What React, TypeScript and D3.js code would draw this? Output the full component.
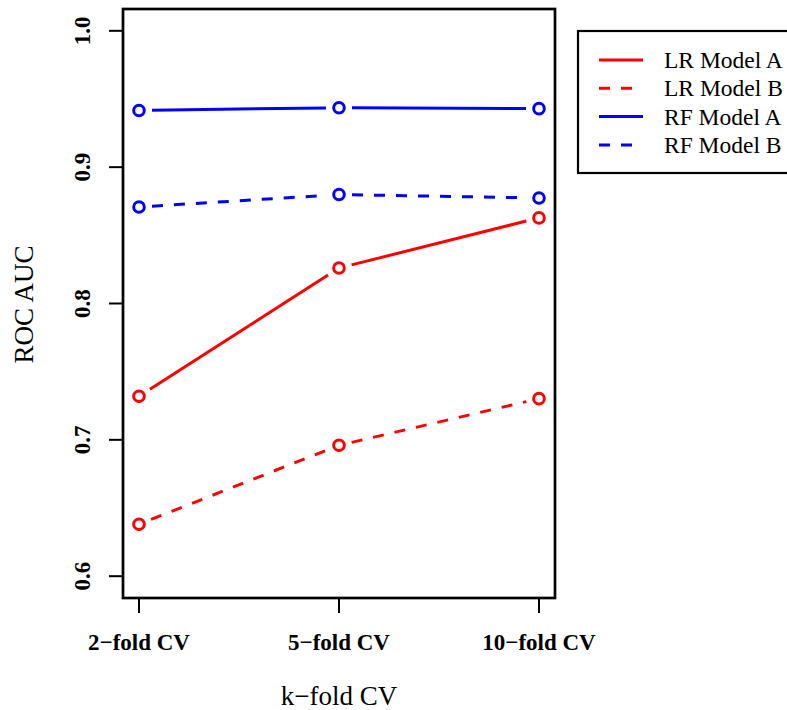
import React from "react";
import * as d3 from "d3";

const categories = ["2−fold CV", "5−fold CV", "10−fold CV"];
const yTicks = [0.6, 0.7, 0.8, 0.9, 1.0];
const lrA = [0.732, 0.826, 0.8628];
const lrB = [0.6381, 0.696, 0.7302];
const rfA = [0.9416, 0.9436, 0.9429];
const rfB = [0.8708, 0.8799, 0.8774];

const seriesNames = ["LR Model A", "LR Model B", "RF Model A", "RF Model B"];
const seriesValues = [lrA, lrB, rfA, rfB];
const seriesColors = ["#ff0000", "#ff0000", "#0000ff", "#0000ff"];
const seriesDashed = [false, true, false, true];

const W = 787;
const H = 710;
const left = 123;
const right = 555;
const top = 9;
const bottom = 598;
const FONT = "'Liberation Serif', 'Times New Roman', serif";

export default function App() {
  const x = d3.scaleLinear().domain([0.92, 3.08]).range([left, right]);
  const y = d3.scaleLinear().domain([0.584, 1.016]).range([bottom, top]);
  const gap = 13;
  const dash = "11,11";

  const segs: any[] = [];
  seriesValues.forEach((vals, si) => {
    for (let i = 0; i < vals.length - 1; i++) {
      const x1 = x(i + 1), y1 = y(vals[i]);
      const x2 = x(i + 2), y2 = y(vals[i + 1]);
      const len = Math.hypot(x2 - x1, y2 - y1);
      if (len <= 2 * gap) continue;
      const ux = (x2 - x1) / len, uy = (y2 - y1) / len;
      segs.push(
        <line
          key={`s${si}-${i}`}
          x1={x1 + ux * gap}
          y1={y1 + uy * gap}
          x2={x2 - ux * gap}
          y2={y2 - uy * gap}
          stroke={seriesColors[si]}
          strokeWidth={3}
          strokeDasharray={seriesDashed[si] ? dash : undefined}
        />
      );
    }
  });

  const legX = 578, legY = 31, rowH = 28.3;

  return (
    <svg
      width={W}
      height={H}
      style={{ position: "absolute", left: 0, top: 0, background: "#fff" }}
      fontFamily={FONT}
    >
      <rect x={0} y={0} width={W} height={H} fill="#fff" />
      {segs}
      {seriesValues.map((vals, si) =>
        vals.map((v, i) => (
          <circle
            key={`p${si}-${i}`}
            cx={x(i + 1)}
            cy={y(v)}
            r={5.3}
            fill="none"
            stroke={seriesColors[si]}
            strokeWidth={3}
          />
        ))
      )}
      <rect
        x={left}
        y={top}
        width={right - left}
        height={bottom - top}
        fill="none"
        stroke="#000"
        strokeWidth={2.7}
      />
      {yTicks.map((t) => (
        <g key={`yt${t}`}>
          <line x1={left - 14} x2={left} y1={y(t)} y2={y(t)} stroke="#000" strokeWidth={2} />
          <text
            transform={`translate(90,${y(t)}) rotate(-90)`}
            textAnchor="middle"
            fontWeight="bold"
            fontSize={23}
          >
            {t.toFixed(1)}
          </text>
        </g>
      ))}
      {categories.map((c, i) => (
        <g key={`xt${i}`}>
          <line x1={x(i + 1)} x2={x(i + 1)} y1={bottom} y2={bottom + 15} stroke="#000" strokeWidth={2} />
          <text x={x(i + 1)} y={650} textAnchor="middle" fontWeight="bold" fontSize={23}>
            {c}
          </text>
        </g>
      ))}
      <text x={(left + right) / 2} y={705} textAnchor="middle" fontSize={27}>
        k−fold CV
      </text>
      <text transform={`translate(33,${(top + bottom) / 2 + 1}) rotate(-90)`} textAnchor="middle" fontSize={27}>
        ROC AUC
      </text>
      <rect x={legX} y={legY} width={240} height={142} fill="#fff" stroke="#000" strokeWidth={2.2} />
      {seriesNames.map((n, si) => {
        const ry = 60 + si * rowH;
        return (
          <g key={`lg${si}`}>
            <line
              x1={599}
              x2={643}
              y1={ry}
              y2={ry}
              stroke={seriesColors[si]}
              strokeWidth={3}
              strokeDasharray={seriesDashed[si] ? "11,11" : undefined}
            />
            <text x={664} y={ry + 8} fontSize={23.5}>
              {n}
            </text>
          </g>
        );
      })}
    </svg>
  );
}
